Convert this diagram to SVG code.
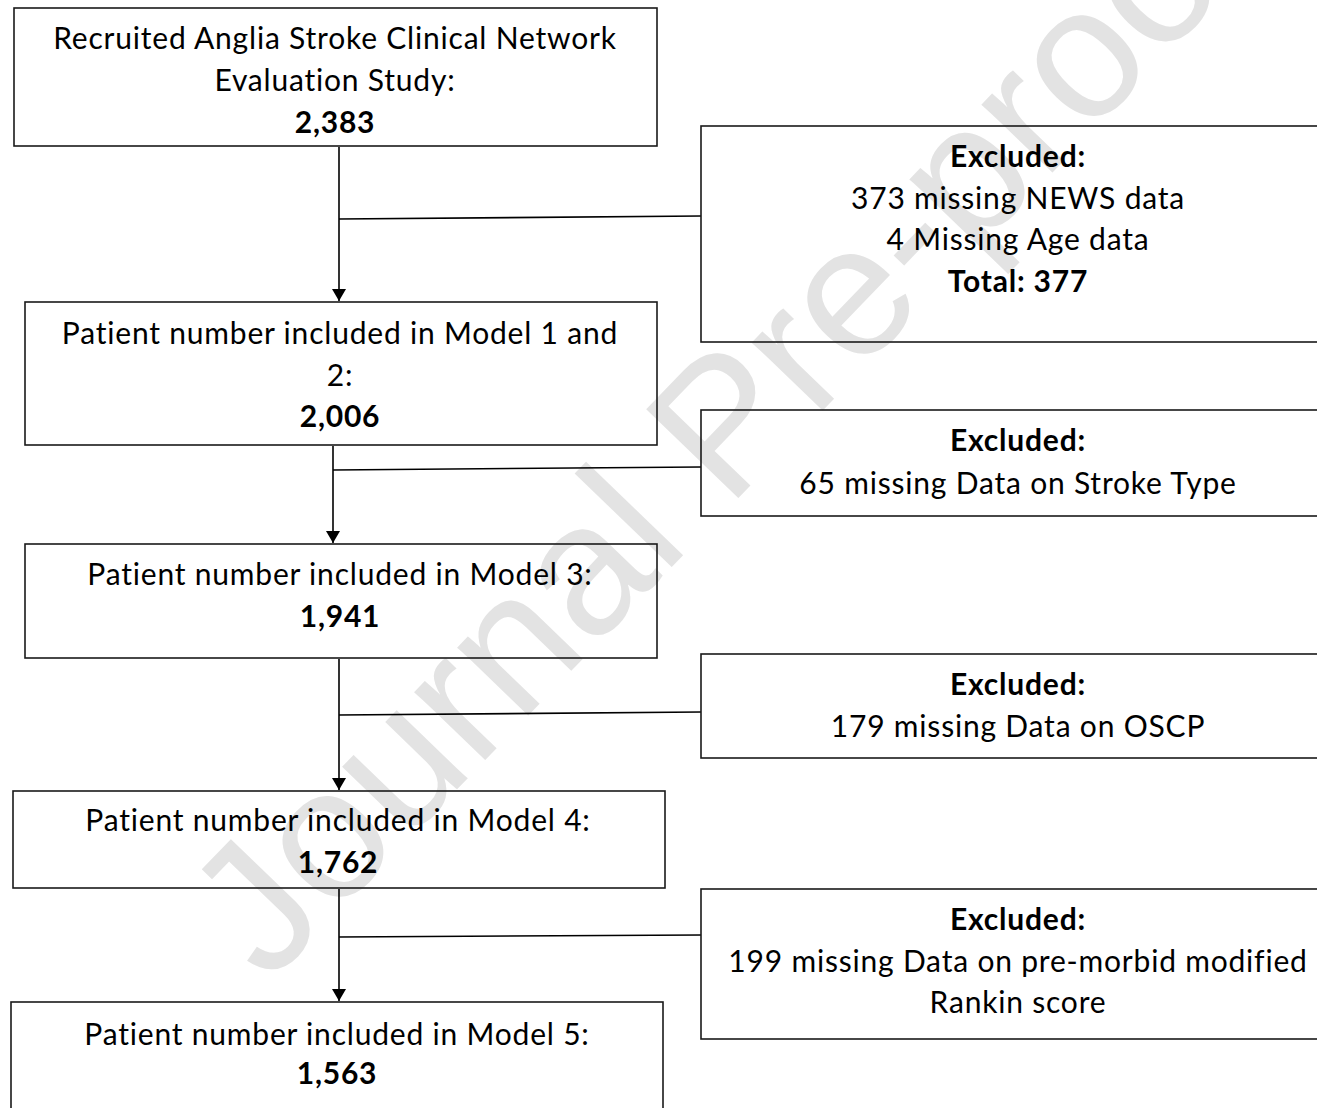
<svg xmlns="http://www.w3.org/2000/svg" width="1317" height="1108" viewBox="0 0 1317 1108">
<style>
.box{fill:none;stroke:#1a1a1a;stroke-width:1.6}
.t{font-family:Lato,"Liberation Sans",sans-serif;font-size:30px;letter-spacing:0.8px;fill:#000;text-anchor:middle;font-variant-ligatures:none}
.b{font-weight:bold}
.ln{fill:none;stroke:#000;stroke-width:1.6}
.wm{font-family:"Liberation Sans",Arial,sans-serif;font-size:186px;fill:#e3e3e3}
</style>
<defs>
<marker id="ah" viewBox="0 0 12 14" refX="12" refY="7" markerWidth="12" markerHeight="14" markerUnits="userSpaceOnUse" orient="auto">
<path d="M0,0 L12,7 L0,14 Z" fill="#000"/>
</marker>
</defs>
<rect width="1317" height="1108" fill="#fff"/>
<text class="wm" transform="translate(268,985) rotate(-46)">Journal Pre-proof</text>
<g id="connectors">
<line class="ln" x1="339" y1="147" x2="339" y2="301" marker-end="url(#ah)"/>
<line class="ln" x1="339" y1="219" x2="701" y2="216"/>
<line class="ln" x1="333" y1="446" x2="333" y2="543" marker-end="url(#ah)"/>
<line class="ln" x1="333" y1="470" x2="701" y2="467"/>
<line class="ln" x1="339" y1="659" x2="339" y2="790" marker-end="url(#ah)"/>
<line class="ln" x1="339" y1="715" x2="701" y2="712"/>
<line class="ln" x1="339" y1="889" x2="339" y2="1001" marker-end="url(#ah)"/>
<line class="ln" x1="339" y1="937" x2="701" y2="935"/>
</g>
<g id="n1">
<rect class="box" x="14" y="8" width="643" height="138"/>
<text class="t" x="335" y="49">Recruited Anglia Stroke Clinical Network</text>
<text class="t" x="335" y="91">Evaluation Study:</text>
<text class="t b" x="335" y="133">2,383</text>
</g>
<g id="e1">
<rect class="box" x="701" y="126" width="640" height="216"/>
<text class="t b" x="1018" y="167">Excluded:</text>
<text class="t" x="1018" y="209">373 missing NEWS data</text>
<text class="t" x="1018" y="250">4 Missing Age data</text>
<text class="t b" x="1018" y="292">Total: 377</text>
</g>
<g id="n2">
<rect class="box" x="25" y="302" width="632" height="143"/>
<text class="t" x="340" y="344">Patient number included in Model 1 and</text>
<text class="t" x="340" y="386">2:</text>
<text class="t b" x="340" y="427">2,006</text>
</g>
<g id="e2">
<rect class="box" x="701" y="410" width="640" height="106"/>
<text class="t b" x="1018" y="451">Excluded:</text>
<text class="t" x="1018" y="494">65 missing Data on Stroke Type</text>
</g>
<g id="n3">
<rect class="box" x="25" y="544" width="632" height="114"/>
<text class="t" x="340" y="585">Patient number included in Model 3:</text>
<text class="t b" x="340" y="627">1,941</text>
</g>
<g id="e3">
<rect class="box" x="701" y="654" width="640" height="104"/>
<text class="t b" x="1018" y="695">Excluded:</text>
<text class="t" x="1018" y="737">179 missing Data on OSCP</text>
</g>
<g id="n4">
<rect class="box" x="13" y="791" width="652" height="97"/>
<text class="t" x="338" y="831">Patient number included in Model 4:</text>
<text class="t b" x="338" y="873">1,762</text>
</g>
<g id="e4">
<rect class="box" x="701" y="889" width="640" height="150"/>
<text class="t b" x="1018" y="930">Excluded:</text>
<text class="t" x="1018" y="972">199 missing Data on pre-morbid modified</text>
<text class="t" x="1018" y="1013">Rankin score</text>
</g>
<g id="n5">
<rect class="box" x="11" y="1002" width="652" height="130"/>
<text class="t" x="337" y="1045">Patient number included in Model 5:</text>
<text class="t b" x="337" y="1084">1,563</text>
</g>
</svg>
